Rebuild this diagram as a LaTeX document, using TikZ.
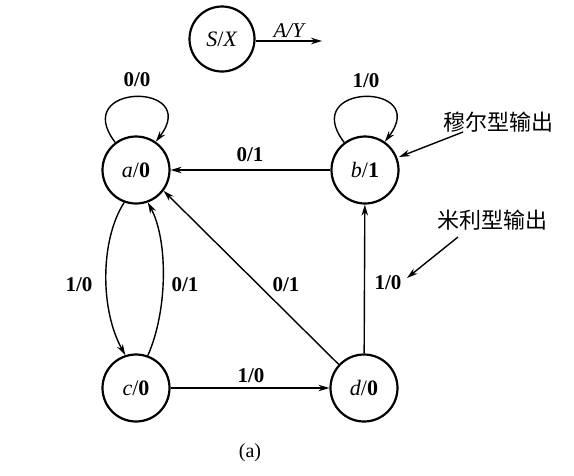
\documentclass[tikz,border=0pt]{standalone}
\usepackage{fontspec}
\setmainfont{Liberation Serif}
\newfontfamily\cjk{Noto Sans CJK SC}
\usetikzlibrary{arrows.meta}
\begin{document}
\begin{tikzpicture}[x=1pt,y=-1pt,
  state/.style={circle,draw,line width=2.2pt,minimum size=67pt,inner sep=0pt,font=\fontsize{22}{24}\selectfont},
  edge/.style={line width=1.4pt,-{Stealth[length=11pt,width=6.5pt]}},
  lbl/.style={font=\fontsize{21}{23}\selectfont\bfseries,inner sep=0pt},
  note/.style={font=\fontsize{22}{24}\selectfont\cjk,inner sep=0pt}]
\useasboundingbox (0,0) rectangle (574,475);
\node[state,minimum size=65pt] (s) at (222,39) {\textit{S}/\textit{X}};
\coordinate (se) at (322,41);
\draw[edge] (s.east |- se) -- (se) node[midway,above=3pt,font=\fontsize{21}{23}\selectfont\itshape,inner sep=0pt] {A/Y};
\node[state] (a) at (136,170) {\textit{a}/\textbf{0}};
\node[state] (b) at (365,170) {\textit{b}/\textbf{1}};
\node[state] (c) at (136,388) {\textit{c}/\textbf{0}};
\node[state] (d) at (364,388) {\textit{d}/\textbf{0}};
% self loops
\draw[edge] (a.127) .. controls +(-46,-60) and +(46,-60) .. (a.55);
\draw[edge] (b.127) .. controls +(-46,-60) and +(46,-60) .. (b.55);
\node[lbl] (la) at (137,80) {0/0};
\node[lbl] (lb) at (366,81) {1/0};
% edges
\draw[edge] (b) -- (a);
\node[lbl] (lba) at (250,155) {0/1};
\draw[edge] (a.250) .. controls (100,240) and (100,310) .. (c.108);
\node[lbl] (lac) at (79,285) {1/0};
\draw[edge] (c.70) .. controls (168,310) and (168,240) .. (a.290);
\node[lbl] (lca) at (185,285) {0/1};
\draw[edge] (d.137) -- (a.-37);
\node[lbl] (lda) at (286,285) {0/1};
\draw[edge] (d) -- (b);
\node[lbl] (ldb) at (388,283) {1/0};
\draw[edge] (c) -- (d);
\node[lbl] (lcd) at (251,376) {1/0};
% notes
\node[note] (moore) at (498,122) {穆尔型输出};
\coordinate (mooreS) at (463,132);
\coordinate (mooreE) at (399,157);
\draw[edge] (mooreS) -- (mooreE);
\node[note] (mealy) at (492,220) {米利型输出};
\coordinate (mealyS) at (458,237);
\coordinate (mealyE) at (407,278);
\draw[edge] (mealyS) -- (mealyE);
\node[font=\fontsize{20}{22}\selectfont,inner sep=0pt] (cap) at (250,453) {(a)};
\end{tikzpicture}
\end{document}
